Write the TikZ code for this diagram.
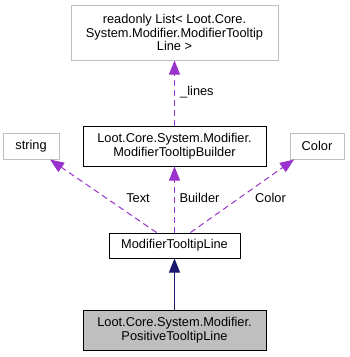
\documentclass[tikz,border=0pt]{standalone}
\usepackage{fontspec}
\setmainfont{Liberation Sans}
\usetikzlibrary{arrows.meta,calc}
\definecolor{edgepurple}{HTML}{9A32CD}
\definecolor{edgenavy}{HTML}{191970}
\definecolor{boxgray}{HTML}{BFBFBF}
\begin{document}
\begin{tikzpicture}[x=1pt,y=-1pt,
  txt/.style={font=\fontsize{12.8}{13.4}\selectfont},
  classbox/.style={draw=black,line width=1pt,fill=white,align=center,inner sep=0pt,txt},
  extbox/.style={draw=boxgray,line width=1pt,fill=white,align=center,inner sep=0pt,txt},
  mainbox/.style={draw=black,line width=1pt,fill=boxgray,align=center,inner sep=0pt,txt},
  usage/.style={draw=edgepurple,line width=1pt,dash pattern=on 6pt off 4pt,
    -{Triangle[length=14pt,width=11pt,fill=edgepurple]}},
  inherit/.style={draw=edgenavy,line width=1pt,
    -{Triangle[length=14pt,width=11pt,fill=edgenavy]}},
  elabel/.style={txt,inner sep=0pt}]
\useasboundingbox (0,0) rectangle (349,357);

% class nodes
\node[extbox,minimum width=207pt,minimum height=55pt] (lines) at (174.5,32.5)
  {readonly List< Loot.Core.\\System.Modifier.ModifierTooltip\\Line >};
\node[classbox,minimum width=183pt,minimum height=40pt] (builder) at (174.5,146)
  {Loot.Core.System.Modifier.\\ModifierTooltipBuilder};
\node[extbox,minimum width=56pt,minimum height=26pt] (string) at (31,146) {string};
\node[extbox,minimum width=54pt,minimum height=26pt] (color) at (317,146) {Color};
\node[classbox,minimum width=131pt,minimum height=25pt] (mtl) at (174.5,245.5)
  {ModifierTooltipLine};
\node[mainbox,minimum width=183pt,minimum height=40pt] (ptl) at (174.5,330)
  {Loot.Core.System.Modifier.\\PositiveTooltipLine};

% member usage edges
\draw[usage] (builder.north) -- (lines.south);
\draw[usage] ($(mtl.north)+(-18,0)$) -- ($(string.south)+(19,0)$);
\draw[usage] (mtl.north) -- (builder.south);
\draw[usage] ($(mtl.north)+(16,0)$) -- ($(color.south)+(-23,0)$);

% inheritance edge
\draw[inherit] (ptl.north) -- (mtl.south);

% edge labels
\node[elabel,anchor=west] (l1) at (180,92) {\_lines};
\node[elabel] (l2) at (138,198) {Text};
\node[elabel] (l3) at (199.5,198) {Builder};
\node[elabel] (l4) at (270.5,198) {Color};
\end{tikzpicture}
\end{document}
